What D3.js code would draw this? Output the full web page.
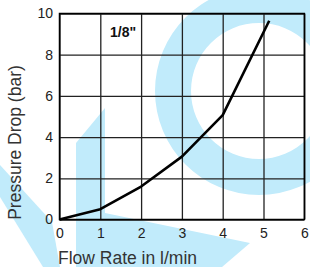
<!DOCTYPE html>
<html><head><meta charset="utf-8">
<script src="https://cdn.jsdelivr.net/npm/d3@7/dist/d3.min.js"></script>
<style>
html,body{margin:0;padding:0;background:#fff;}
svg{display:block;font-family:"Liberation Sans",Arial,Helvetica,sans-serif;}
</style></head>
<body>
<svg id="c" width="310" height="267"></svg>
<script>
// Data
const flowRate = [0, 1, 2, 3, 4, 5.14];
const pressureDrop = [0, 0.5, 1.6, 3.05, 5.07, 9.65];
const xTicks = [0, 1, 2, 3, 4, 5, 6];
const yTicks = [0, 2, 4, 6, 8, 10];
const xTitle = "Flow Rate in l/min";
const yTitle = "Pressure Drop (bar)";
const seriesLabel = '1/8"';

const svg = d3.select("#c");
const L = 59.5, R = 304.3, T = 13.5, B = 219.5;
const x = d3.scaleLinear().domain([0, 6]).range([L, R]);
const y = d3.scaleLinear().domain([0, 10]).range([B, T]);
const cyan = "#c1ebfb";

// watermark
const wm = svg.append("g");
const arc = d3.arc().innerRadius(68).outerRadius(104).startAngle(0).endAngle(2 * Math.PI);
wm.append("path").attr("d", arc()).attr("transform", "translate(259,91)").attr("fill", cyan);
wm.append("path").attr("d", "M76,143 L105,108 L105,213 L250,243 L222,267 L76,267 Z").attr("fill", cyan);
wm.append("path").attr("d", "M0,165 L52,222 L60,267 L43,267 L0,197 Z").attr("fill", cyan);

// grid + axes
const gx = svg.append("g").attr("transform", `translate(0,${B})`)
  .call(d3.axisBottom(x).tickValues(xTicks).tickSize(-(B - T)).tickPadding(9).tickFormat(d3.format("d")));
gx.select(".domain").remove();
gx.selectAll(".tick line").attr("stroke", "#222").attr("stroke-width", 1.3);
gx.selectAll(".tick text").attr("font-size", 14).attr("fill", "#222").attr("font-family", "Liberation Sans, Arial, sans-serif");

const gy = svg.append("g").attr("transform", `translate(${L},0)`)
  .call(d3.axisLeft(y).tickValues(yTicks).tickSize(-(R - L)).tickPadding(6.5).tickFormat(d3.format("d")));
gy.select(".domain").remove();
gy.selectAll(".tick line").attr("stroke", "#222").attr("stroke-width", 1.3);
gy.selectAll(".tick text").attr("font-size", 14).attr("fill", "#222").attr("font-family", "Liberation Sans, Arial, sans-serif");

svg.append("rect").attr("x", L).attr("y", T).attr("width", R - L).attr("height", B - T)
  .attr("fill", "none").attr("stroke", "#000").attr("stroke-width", 1.5);

// curve
const pts = flowRate.map((f, i) => [f, pressureDrop[i]]);
svg.append("path").datum(pts)
  .attr("d", d3.line().x(d => x(d[0])).y(d => y(d[1])))
  .attr("fill", "none").attr("stroke", "#000").attr("stroke-width", 2.6)
  .attr("stroke-linejoin", "round").attr("stroke-linecap", "butt");

// labels
svg.append("text").attr("x", 110).attr("y", 37).attr("font-size", 14).attr("font-weight", "bold")
  .attr("fill", "#111").text(seriesLabel);
svg.append("text").attr("x", 127.5).attr("y", 264).attr("text-anchor", "middle")
  .attr("font-size", 17.5).attr("fill", "#333").text(xTitle);
svg.append("text").attr("transform", "translate(21,142.5) rotate(-90)").attr("text-anchor", "middle")
  .attr("font-size", 17.5).attr("fill", "#333").text(yTitle);
</script>
</body></html>
